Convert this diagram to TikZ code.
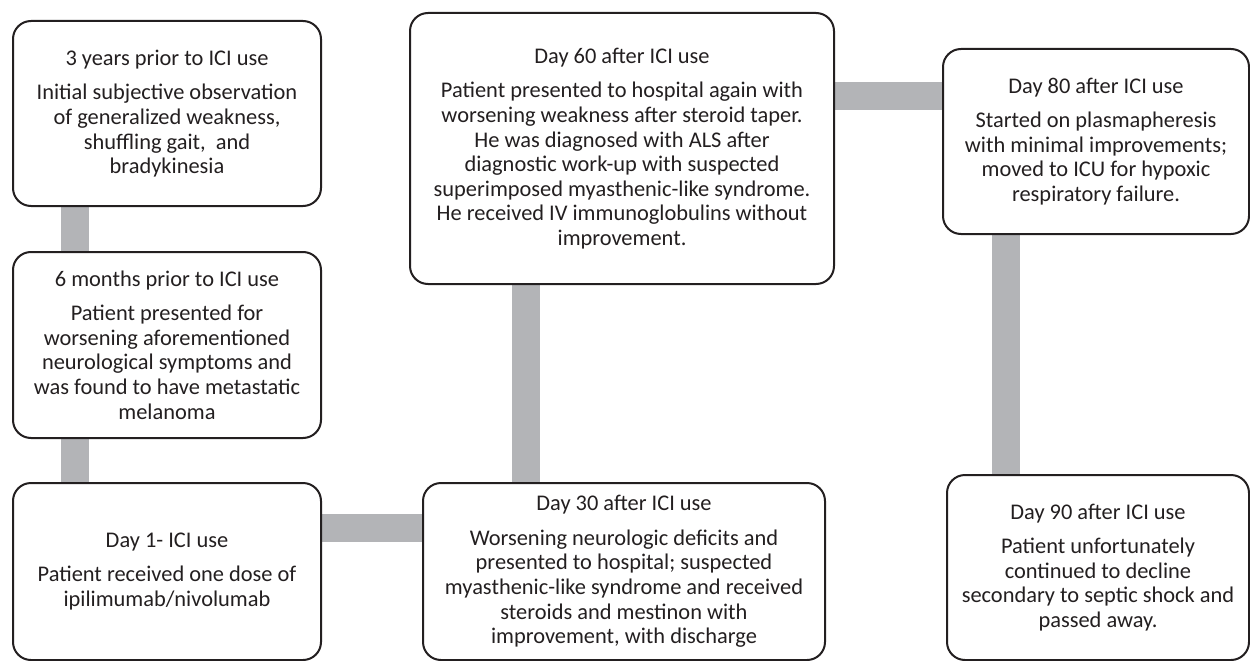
\documentclass[tikz,border=0pt]{standalone}
\usepackage{fontspec}
\setmainfont{Carlito}
\definecolor{conngray}{HTML}{B3B4B7}
\definecolor{ink}{HTML}{231F20}
\pgfdeclarelayer{bg}
\pgfsetlayers{bg,main}
\begin{document}
\begin{tikzpicture}[x=1pt,y=-1pt,
  evbox/.style={draw=ink,line width=2pt,rounded corners=18pt,fill=white,
    anchor=north west,inner sep=0pt,align=center,text=ink,
    font=\fontsize{22.4}{24.6}\selectfont},
  conn/.style={draw=conngray,line width=28pt}]
\useasboundingbox (0,0) rectangle (1250,661);
% nodes
\node[evbox,minimum width=308pt,minimum height=185pt] (A) at (12,20)
  {3 years prior to ICI use\\[10pt]Initial subjective observation\\of generalized weakness,\\shuffling gait,~ and\\bradykinesia};
\node[evbox,minimum width=308pt,minimum height=186pt] (B) at (12,251)
  {6 months prior to ICI use\\[10pt]Patient presented for\\worsening aforementioned\\neurological symptoms and\\was found to have metastatic\\melanoma};
\node[evbox,minimum width=308pt,minimum height=177pt] (C) at (12,482)
  {Day 1- ICI use\\[10pt]Patient received one dose of\\ipilimumab/nivolumab};
\node[evbox,minimum width=402pt,minimum height=177pt] (D) at (422,482)
  {Day 30 after ICI use\\[10pt]Worsening neurologic deficits and\\presented to hospital; suspected\\myasthenic-like syndrome and received\\steroids and mestinon with\\improvement, with discharge};
\node[evbox,minimum width=424pt,minimum height=271pt] (E) at (409,12)
  {Day 60 after ICI use\\[10pt]Patient presented to hospital again with\\worsening weakness after steroid taper.\\He was diagnosed with ALS after\\diagnostic work-up with suspected\\superimposed myasthenic-like syndrome.\\He received IV immunoglobulins without\\improvement.};
\node[evbox,minimum width=306pt,minimum height=185pt] (F) at (942,48)
  {Day 80 after ICI use\\[10pt]Started on plasmapheresis\\with minimal improvements;\\moved to ICU for hypoxic\\respiratory failure.};
\node[evbox,minimum width=302pt,minimum height=185pt] (G) at (946,474)
  {Day 90 after ICI use\\[10pt]Patient unfortunately\\continued to decline\\secondary to septic shock and\\passed away.};
% connectors (behind nodes)
\begin{pgfonlayer}{bg}
\draw[conn] ([xshift=63pt]A.south west) -- ([xshift=63pt]B.north west);
\draw[conn] ([xshift=63pt]B.south west) -- ([xshift=63pt]C.north west);
\draw[conn] ([yshift=-46pt]C.north east) -- ([yshift=-46pt]D.north west);
\draw[conn] ([xshift=116.5pt]E.south west) -- ([xshift=103.5pt]D.north west);
\draw[conn] ([yshift=-83.5pt]E.north east) -- ([yshift=-47.5pt]F.north west);
\draw[conn] ([xshift=64pt]F.south west) -- ([xshift=60pt]G.north west);
\end{pgfonlayer}
\end{tikzpicture}
\end{document}
